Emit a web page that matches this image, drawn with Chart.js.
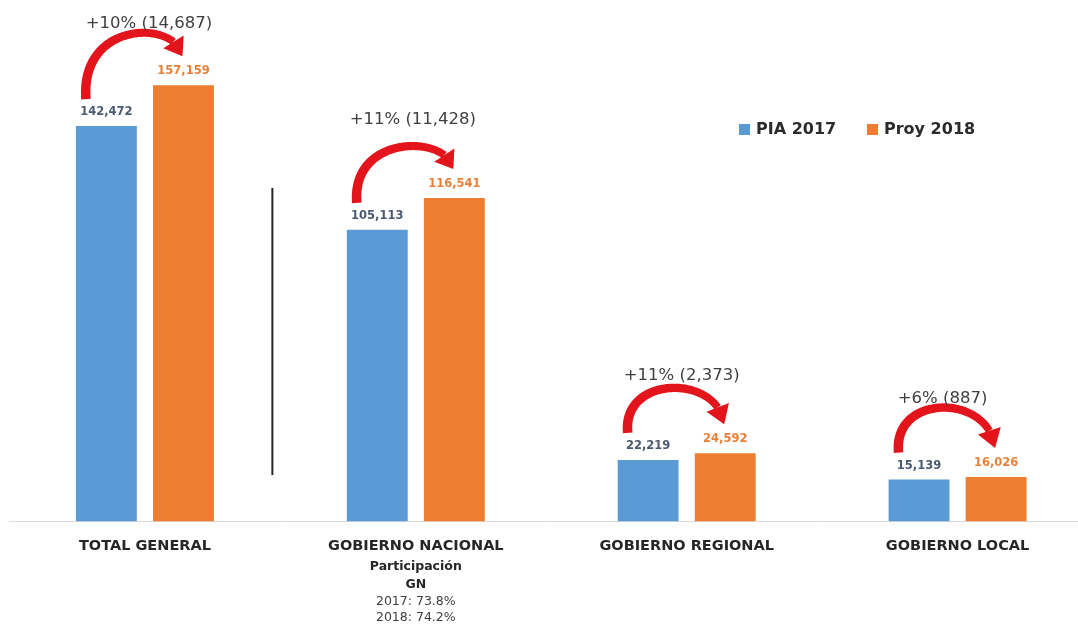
<!DOCTYPE html>
<html><head><meta charset="utf-8">
<script src="https://cdn.jsdelivr.net/npm/chart.js@4/dist/chart.umd.min.js"></script>
<style>html,body{margin:0;padding:0;background:#fff;overflow:hidden}
#wrap{position:relative;width:1078px;height:626px;overflow:hidden}</style></head>
<body><div id="wrap"><canvas id="c" width="1093" height="626"></canvas></div>
<script>
// ---- data ----
const categories = ['TOTAL GENERAL', 'GOBIERNO NACIONAL', 'GOBIERNO REGIONAL', 'GOBIERNO LOCAL'];
const seriesNames = ['PIA 2017', 'Proy 2018'];
const pia2017 = [142472, 105113, 22219, 15139];
const proy2018 = [157159, 116541, 24592, 16026];
const changeLabels = ['+10% (14,687)', '+11% (11,428)', '+11% (2,373)', '+6% (887)'];
const gnNoteBold = ['Participación', 'GN'];
const gnNoteLines = ['2017: 73.8%', '2018: 74.2%'];
const yMax = 187900;

// ---- style ----
const BLUE = '#5B9BD5', ORANGE = '#ED7D31';
const annotNudgeX = [4, -3, -5, -15];
const fmt = v => v.toLocaleString('en-US');

function bez(p0, p1, p2, p3, t) {
  const u = 1 - t;
  return {
    x: u*u*u*p0.x + 3*u*u*t*p1.x + 3*u*t*t*p2.x + t*t*t*p3.x,
    y: u*u*u*p0.y + 3*u*u*t*p1.y + 3*u*t*t*p2.y + t*t*t*p3.y
  };
}
function drawArrow(ctx, p0, p3, c) {
  const p1 = {x: p0.x - 6, y: c}, p2 = {x: p3.x - 6, y: c};
  const N = 100, pts = [];
  for (let i = 0; i <= N; i++) pts.push(bez(p0, p1, p2, p3, i / N));
  const L = [0];
  for (let i = 1; i <= N; i++) L[i] = L[i-1] + Math.hypot(pts[i].x - pts[i-1].x, pts[i].y - pts[i-1].y);
  const headLen = 17;
  let k = N;
  while (k > 0 && L[k] > L[N] - headLen) k--;
  const base = pts[k];
  const dx = p3.x - base.x, dy = p3.y - base.y, dl = Math.hypot(dx, dy);
  const ux = dx / dl, uy = dy / dl;
  const left = [], right = [];
  for (let i = 0; i <= k; i++) {
    const a = pts[Math.max(0, i-1)], b = pts[Math.min(N, i+1)];
    const tx = b.x - a.x, ty = b.y - a.y, tl = Math.hypot(tx, ty) || 1;
    const nx = -ty / tl, ny = tx / tl;
    const w = 4.8 - 1.0 * (L[i] / L[k]);
    left.push({x: pts[i].x + nx*w, y: pts[i].y + ny*w});
    right.push({x: pts[i].x - nx*w, y: pts[i].y - ny*w});
  }
  ctx.save();
  ctx.fillStyle = '#E3141B';
  ctx.beginPath();
  ctx.moveTo(left[0].x, left[0].y);
  left.forEach(p => ctx.lineTo(p.x, p.y));
  for (let i = right.length - 1; i >= 0; i--) ctx.lineTo(right[i].x, right[i].y);
  ctx.closePath();
  ctx.fill();
  const hw = 12;
  ctx.beginPath();
  ctx.moveTo(base.x - uy*hw, base.y + ux*hw);
  ctx.lineTo(p3.x, p3.y);
  ctx.lineTo(base.x + uy*hw, base.y - ux*hw);
  ctx.closePath();
  ctx.fill();
  ctx.restore();
}

const decor = {
  id: 'decor',
  afterDatasetsDraw(chart) {
    const ctx = chart.ctx, xs = chart.scales.x, area = chart.chartArea;
    const m0 = chart.getDatasetMeta(0), m1 = chart.getDatasetMeta(1);
    ctx.save();
    // value labels
    ctx.textAlign = 'center'; ctx.textBaseline = 'middle';
    ctx.font = 'bold 11.5px "DejaVu Sans"';
    [[m0, '#4A5A70'], [m1, '#E9803A']].forEach(([m, col], di) => {
      ctx.fillStyle = col;
      m.data.forEach((el, j) => {
        const v = chart.data.datasets[di].data[j];
        ctx.fillText(fmt(v), el.x, el.y - 14);
      });
    });
    // arrows + change labels
    m0.data.forEach((b, j) => {
      const o = m1.data[j];
      const p0 = {x: b.x - b.width/2 + 10, y: b.y - 27};
      const p3 = {x: o.x - 1, y: o.y - 29};
      const peak = Math.min(p0.y - 45, p3.y - 22);
      const c = (peak - (p0.y + p3.y) / 8) / 0.75;
      drawArrow(ctx, p0, p3, c);
      ctx.fillStyle = '#404040';
      ctx.font = '16.5px "DejaVu Sans"';
      ctx.textAlign = 'center'; ctx.textBaseline = 'middle';
      ctx.fillText(changeLabels[j], xs.getPixelForValue(j) + annotNudgeX[j], Math.max(o.y - 78, 24));
    });
    // vertical separator
    const sx = (xs.getPixelForValue(0) + xs.getPixelForValue(1)) / 2 - 8;
    ctx.strokeStyle = '#262626'; ctx.lineWidth = 2;
    ctx.beginPath(); ctx.moveTo(sx, area.top + 188); ctx.lineTo(sx, area.top + 475); ctx.stroke();
    // GN note
    const gx = xs.getPixelForValue(1);
    ctx.fillStyle = '#262626';
    ctx.font = 'bold 12.5px "DejaVu Sans"';
    ctx.fillText(gnNoteBold[0], gx, area.bottom + 45);
    ctx.fillText(gnNoteBold[1], gx, area.bottom + 63);
    ctx.fillStyle = '#404040';
    ctx.font = '12.5px "DejaVu Sans"';
    ctx.fillText(gnNoteLines[0], gx, area.bottom + 80);
    ctx.fillText(gnNoteLines[1], gx, area.bottom + 96);
    // legend
    ctx.textAlign = 'left';
    ctx.font = 'bold 16px "DejaVu Sans"';
    const lx = [739, 867];
    chart.data.datasets.forEach((ds, i) => {
      ctx.fillStyle = ds.backgroundColor;
      ctx.fillRect(lx[i], 124, 11, 11);
      ctx.fillStyle = '#2b2b2b';
      ctx.fillText(ds.label, lx[i] + 17, 130);
    });
    ctx.restore();
  }
};

new Chart(document.getElementById('c'), {
  type: 'bar',
  data: {
    labels: categories,
    datasets: [
      {label: seriesNames[0], data: pia2017, backgroundColor: BLUE, categoryPercentage: 0.569, barPercentage: 0.79},
      {label: seriesNames[1], data: proy2018, backgroundColor: ORANGE, categoryPercentage: 0.569, barPercentage: 0.79}
    ]
  },
  options: {
    responsive: false,
    animation: false,
    devicePixelRatio: 1,
    layout: {padding: {left: 9.5, right: 0, top: 0, bottom: 55}},
    plugins: {legend: {display: false}, tooltip: {enabled: false}},
    scales: {
      x: {
        grid: {display: false, drawTicks: false},
        border: {display: true, color: '#D9D9D9', width: 1},
        ticks: {padding: 16, color: '#262626', maxRotation: 0, autoSkip: false,
                font: {family: 'DejaVu Sans', weight: 'bold', size: 14.5}}
      },
      y: {display: false, min: 0, max: yMax}
    }
  },
  plugins: [decor]
});
</script>
</body></html>
